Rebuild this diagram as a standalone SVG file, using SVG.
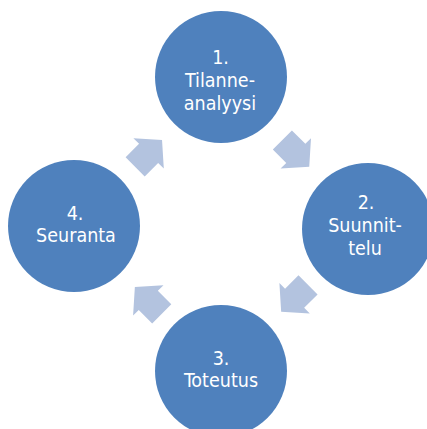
<svg xmlns="http://www.w3.org/2000/svg" width="427" height="429" viewBox="0 0 427 429">
<defs>
<style>
.node circle{fill:#4F81BD;}
.node text{fill:#FFFFFF;font-family:"DejaVu Sans Condensed","DejaVu Sans",sans-serif;font-stretch:condensed;font-size:19.5px;text-anchor:middle;}
.arrow{fill:#B3C3DF;}
</style>
<path id="arr" d="M-19,-13.5 H0 V-21.5 L19,0 L0,21.5 V13.5 H-19 Z"/>
</defs>
<rect width="427" height="429" fill="#FFFFFF"/>
<g id="connectors">
<use href="#arr" class="arrow" transform="translate(148.6,153.4) rotate(-45)"/>
<use href="#arr" class="arrow" transform="translate(295.8,153.4) rotate(45)"/>
<use href="#arr" class="arrow" transform="translate(294.6,298.3) rotate(135)"/>
<use href="#arr" class="arrow" transform="translate(148.3,300.4) rotate(-135)"/>
</g>
<g id="node1" class="node">
<circle cx="221" cy="77" r="66"/>
<text x="220.5" y="64.2">1.</text>
<text x="220" y="86.9">Tilanne-</text>
<text x="220" y="109.6">analyysi</text>
</g>
<g id="node2" class="node">
<circle cx="368" cy="229" r="66"/>
<text x="366" y="209.3">2.</text>
<text x="365" y="232">Suunnit-</text>
<text x="365" y="254.7">telu</text>
</g>
<g id="node3" class="node">
<circle cx="221" cy="371" r="66"/>
<text x="221" y="364.5">3.</text>
<text x="221" y="387.2">Toteutus</text>
</g>
<g id="node4" class="node">
<circle cx="74" cy="226" r="66"/>
<text x="75" y="219.5">4.</text>
<text x="76" y="242.2">Seuranta</text>
</g>
</svg>
